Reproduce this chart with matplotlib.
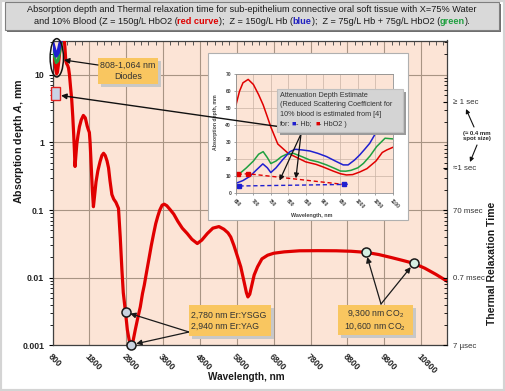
import matplotlib
matplotlib.use('Agg')
import matplotlib.pyplot as plt
from matplotlib.patches import Rectangle, Ellipse, FancyArrowPatch
from matplotlib.ticker import LogLocator, NullFormatter, MultipleLocator

plt.rcParams['font.family'] = ['Liberation Sans', 'DejaVu Sans']
plt.rcParams['mathtext.fontset'] = 'custom'
plt.rcParams['mathtext.rm'] = 'Liberation Sans'
plt.rcParams['mathtext.it'] = 'Liberation Sans:italic:bold'

# main curve: absorption depth (mm) vs wavelength (nm), 10% blood HbO2
main_wl = [800, 830, 860, 890, 912, 935, 960, 985, 1010, 1040, 1070, 1110, 1140, 1160,
           1185, 1211, 1235, 1260, 1290, 1320, 1350, 1375, 1395, 1411, 1435, 1460, 1490,
           1530, 1580, 1637, 1690, 1740, 1770, 1800, 1820, 1850, 1880, 1910, 1940, 1980,
           2030, 2090, 2140, 2185, 2230, 2280, 2320, 2360, 2410, 2460, 2520, 2590, 2637,
           2683, 2720, 2780, 2830, 2880, 2940, 2990, 3045, 3110, 3181, 3240, 3290, 3350,
           3408, 3480, 3544, 3600, 3653, 3710, 3773, 3830, 3900, 4000, 4089, 4200, 4320,
           4454, 4580, 4727, 4850, 5000, 5150, 5315, 5450, 5560, 5634, 5720, 5800, 5906,
           6000, 6060, 6100, 6150, 6200, 6270, 6361, 6480, 6634, 6800, 7086, 7500, 8000,
           8500, 8900, 9300, 9650, 10000, 10300, 10600, 10900, 11200, 11500]
main_depth = [27, 22, 16, 12, 10.3, 11, 14, 19, 26, 34, 40, 38, 24, 16,
              14.5, 13.7, 12.5, 10, 6.5, 4.4, 2.4, 1.3, 0.75, 0.44, 0.65, 0.95, 1.25,
              1.7, 2.15, 2.5, 2.3, 1.75, 1.55, 1.4, 1.0, 0.45, 0.2, 0.112, 0.16, 0.26,
              0.38, 0.52, 0.64, 0.69, 0.64, 0.53, 0.42, 0.27, 0.17, 0.145, 0.13, 0.106, 0.04,
              0.013, 0.006, 0.0031, 0.0017, 0.0012, 0.00102, 0.0012, 0.0017, 0.0025, 0.0037, 0.0058, 0.0078, 0.012,
              0.018, 0.03, 0.045, 0.063, 0.08, 0.1, 0.118, 0.122, 0.116, 0.1, 0.087, 0.068, 0.054,
              0.045, 0.037, 0.032, 0.036, 0.045, 0.054, 0.057, 0.052, 0.046, 0.040, 0.03, 0.022, 0.0145,
              0.0085, 0.006, 0.0052, 0.0057, 0.0075, 0.011, 0.0145, 0.019, 0.0215, 0.023, 0.0241, 0.025, 0.0251,
              0.025, 0.0246, 0.0237, 0.022, 0.0198, 0.018, 0.0163, 0.0138, 0.0112, 0.0089]

# diode-range pieces of the Hb (blue) and mixed (green) curves on the main plot
diode_wl = [800, 850, 900, 950, 1000, 1040]
diode_hb = [30, 24, 19, 21, 28, 34]
diode_mix = [25, 19, 15, 16, 22, 29]

laser_er_wl = [2780, 2940]
laser_er_depth = [0.0031, 0.00102]
laser_co2_wl = [9300, 10600]
laser_co2_depth = [0.0237, 0.0163]

x_ticks = list(range(800, 10801, 1000))
y_ticks = [0.001, 0.01, 0.1, 1, 10]
y_ticklabels = ['0.001', '0.01', '0.1', '1', '10']
trt_pos = [0.001, 0.01, 0.1, 0.42, 4.0]
trt_labels = ['7 µsec', '0.7 msec', '70 msec', '≈1 sec', '≥ 1 sec']

# inset: attenuation depth 650-1100 nm
in_hbo2_wl = [650, 660, 670, 685, 700, 715, 728, 740, 750, 770, 800, 830, 850, 880, 900,
              930, 950, 967, 985, 1005, 1026, 1052, 1070, 1083, 1100]
in_hbo2 = [52, 60, 65, 67, 64, 58, 52, 45, 39, 29, 23.5, 20.5, 18.5, 17, 15.5,
           13, 11.5, 10.8, 11, 12.5, 14.5, 19, 24, 25.5, 27]
in_mix_wl = [660, 680, 700, 715, 728, 740, 750, 765, 780, 795, 815, 840, 862, 885, 910,
             935, 950, 965, 980, 1000, 1016, 1035, 1054, 1078, 1100]
in_mix = [11.5, 15, 19, 23, 24.5, 21, 17.5, 19, 21.5, 23, 23.5, 21.5, 19.6, 18.5, 16.7,
          14.5, 13.1, 13, 13.5, 15, 17.6, 22, 27.5, 32.4, 32]
in_hb_wl = [650, 670, 690, 710, 727, 740, 750, 765, 785, 805, 820, 840, 862, 885, 910,
            935, 958, 972, 990, 1005, 1020, 1034, 1050, 1065]
in_hb = [5.9, 7.5, 10, 14, 17.3, 15, 12.2, 15, 20, 24.5, 25.9, 25.5, 24.9, 23.5, 21.6,
         19, 16.7, 16.7, 19.5, 22.5, 26, 29.4, 35, 42]
est_hb_wl = [660, 960, 975]
est_hb = [4.3, 5.2, 5.4]
est_hbo2_wl = [655, 685, 960]
est_hbo2 = [11.2, 11.5, 5.2]

W, H = 505, 391


def fx(x):
    return x / W


def fy(y):
    return 1 - y / H


fig = plt.figure(figsize=(W / 100, H / 100), dpi=100)
fig.patch.set_facecolor('white')
fig.patches.append(Rectangle((0, 0), 1, 1, transform=fig.transFigure, fill=False,
                             edgecolor='#d4d4d4', lw=3, zorder=0))


def box(x0, y0, x1, y1, fc, ec='none', shadow='#a6a6a6', z=3, off=3):
    if shadow:
        fig.patches.append(Rectangle((fx(x0 + off), fy(y1 + off)), fx(x1 - x0), fy(y0) - fy(y1),
                                     transform=fig.transFigure, fc=shadow, ec='none', zorder=z))
    fig.patches.append(Rectangle((fx(x0), fy(y1)), fx(x1 - x0), fy(y0) - fy(y1),
                                 transform=fig.transFigure, fc=fc, ec=ec, lw=0.8, zorder=z))


def text_row(parts, x, y, size, ha='center', z=10):
    r = fig.canvas.get_renderer()
    objs, widths = [], []
    for s, c, w, gap in parts:
        t = fig.text(0, fy(y), s, color=c, fontweight=w, fontsize=size,
                     ha='left', va='center', zorder=z)
        objs.append(t)
        widths.append(t.get_window_extent(r).width + gap)
    x0 = x - sum(widths) / 2 if ha == 'center' else x
    for t, wd in zip(objs, widths):
        t.set_x(fx(x0))
        x0 += wd


def fig_arrow(x0, y0, x1, y1, lw=0.9, ms=8, z=7):
    fig.add_artist(FancyArrowPatch((fx(x0), fy(y0)), (fx(x1), fy(y1)), transform=fig.transFigure,
                                   arrowstyle='-|>', color='#111111', lw=lw, mutation_scale=ms,
                                   shrinkA=0, shrinkB=0, zorder=z))


# title box
box(5, 2, 499, 30, '#d9d9d9', ec='#7f7f7f', shadow='#6f6f6f', z=3, off=2)
tc = '#1a1a1a'
text_row([('Absorption depth and Thermal relaxation time for sub-epithelium connective oral soft '
           'tissue with X=75% Water', tc, 'normal', 0)], 252, 10, 6.6)
text_row([('and 10% Blood (Z = 150g/L HbO2 (', tc, 'normal', 0), ('red curve', '#e00000', 'bold', 0),
          (');  Z = 150g/L Hb (', tc, 'normal', 0), ('blue', '#2020c0', 'bold', 0),
          (');  Z = 75g/L Hb + 75g/L HbO2 (', tc, 'normal', 0), ('green', '#20a040', 'bold', 0),
          (').', tc, 'normal', 0)], 252, 22, 6.6)

# main axes
ax = fig.add_axes([fx(52.5), fy(345.4), fx(447) - fx(52.5), fy(40.5) - fy(345.4)])
ax.set_facecolor('#fce4d6')
ax.set_yscale('log')
ax.set_xlim(800, 11500)
ax.set_ylim(0.001, 32)
ax.set_xticks(x_ticks)
ax.set_xticklabels([str(v) for v in x_ticks], rotation=-45, ha='left', va='top',
                   rotation_mode='anchor', fontsize=6.3, fontweight='bold', color='#262626')
ax.set_yticks(y_ticks)
ax.set_yticklabels(y_ticklabels, fontsize=6.3, fontweight='bold', color='#262626')
ax.yaxis.set_minor_locator(LogLocator(base=10, subs=range(2, 10)))
ax.yaxis.set_minor_formatter(NullFormatter())
ax.xaxis.set_minor_locator(MultipleLocator(200))
ax.tick_params(axis='x', which='major', length=0, pad=5, top=True)
ax.tick_params(axis='x', which='minor', bottom=False, top=True, direction='in', length=3,
               color='#404040')
ax.tick_params(axis='y', which='major', length=3, width=0.8, pad=3)
ax.tick_params(axis='y', which='minor', length=2, width=0.6)
ax.grid(True, which='major', color='#a89484', lw=0.8)
for sp in ax.spines.values():
    sp.set_color('#404040')
    sp.set_linewidth(0.9)

ax.plot(main_wl, main_depth, color='#e00000', lw=2.3, solid_joinstyle='round', zorder=4)
ax.plot(diode_wl, diode_mix, color='#20a040', lw=2.0, zorder=4)
ax.plot(diode_wl, diode_hb, color='#1f1fd0', lw=2.6, zorder=4)

ax.plot(laser_er_wl, laser_er_depth, 'o', ms=6.5, mfc='#c9d3e0', mec='#1a1a1a', mew=1.1,
        clip_on=False, zorder=6)
ax.plot(laser_co2_wl, laser_co2_depth, 'o', ms=6.5, mfc='#d6f0e4', mec='#1a1a1a', mew=1.1,
        clip_on=False, zorder=6)

# right axis: thermal relaxation time
ax2 = ax.twinx()
ax2.set_yscale('log')
ax2.set_ylim(ax.get_ylim())
ax2.set_yticks(trt_pos)
ax2.set_yticklabels(trt_labels, fontsize=5.7, color='#333333')
ax2.yaxis.set_minor_locator(LogLocator(base=10, subs=range(2, 10)))
ax2.yaxis.set_minor_formatter(NullFormatter())
ax2.tick_params(axis='y', which='major', direction='in', length=3, pad=4)
ax2.tick_params(axis='y', which='minor', direction='in', length=2, width=0.6)
for sp in ax2.spines.values():
    sp.set_visible(False)

fig.text(fx(19), fy(141.5), 'Absorption depth $A$, mm', rotation=90, ha='center', va='center',
         fontsize=7.7, fontweight='bold', color='#1a1a1a')
fig.text(fx(246), fy(377), 'Wavelength, nm', ha='center', va='center',
         fontsize=7.2, fontweight='bold', color='#1a1a1a')
fig.text(fx(492), fy(263.5), 'Thermal Relaxation Time', rotation=90, ha='center', va='center',
         fontsize=7.5, fontweight='bold', color='#1a1a1a')

fig.text(fx(477), fy(136), '(≈ 0.4 mm\nspot size)', ha='center', va='center', fontsize=4.3,
         fontweight='bold', color='#262626', linespacing=1.1)
fig_arrow(474, 127, 466, 109, lw=0.8, ms=6)
fig_arrow(477, 145, 470, 162, lw=0.8, ms=6)

# diode ellipse and red square
fig.patches.append(Ellipse((fx(56.8), fy(57.8)), fx(13.3), fy(0) - fy(38.3), transform=fig.transFigure,
                           fill=False, ec='#111111', lw=1.1, zorder=5))
fig.patches.append(Rectangle((fx(50.7), fy(100)), fx(9.3), fy(87.3) - fy(100), transform=fig.transFigure,
                             fc='#c9d3e6', ec='#e02020', lw=1.0, zorder=5))

# callout boxes
orange = '#f9c660'
box(98, 58, 158, 84, orange, shadow='#c8c8c8', z=5)
fig.text(fx(128), fy(71), '808-1,064 nm\nDiodes', ha='center', va='center', fontsize=6.4,
         color='#333333', zorder=6, linespacing=1.3)
box(189, 305, 271, 336, orange, shadow='#c8c8c8', z=5)
fig.text(fx(191), fy(320.5), '2,780 nm Er:YSGG\n2,940 nm Er:YAG', ha='left', va='center',
         fontsize=6.3, color='#333333', zorder=6, linespacing=1.3)
box(338, 305, 413, 335, orange, shadow='#c8c8c8', z=5)
fig.text(fx(375.5), fy(320), '9,300 nm CO$_2$\n10,600 nm CO$_2$', ha='center', va='center',
         fontsize=6.3, color='#333333', zorder=6, linespacing=1.3)

arr2 = dict(arrowstyle='-|>', color='#1a1a1a', lw=0.9, mutation_scale=8, shrinkA=0, shrinkB=3.5)
ax.annotate('', xy=(laser_er_wl[0], laser_er_depth[0]), xytext=(189, H - 332),
            textcoords='figure pixels', arrowprops=arr2, zorder=7)
ax.annotate('', xy=(laser_er_wl[1], laser_er_depth[1]), xytext=(189, H - 332),
            textcoords='figure pixels', arrowprops=arr2, zorder=7, annotation_clip=False)
ax.annotate('', xy=(laser_co2_wl[0], laser_co2_depth[0]), xytext=(381, H - 304),
            textcoords='figure pixels', arrowprops=arr2, zorder=7)
ax.annotate('', xy=(laser_co2_wl[1], laser_co2_depth[1]), xytext=(381, H - 304),
            textcoords='figure pixels', arrowprops=arr2, zorder=7)
fig_arrow(98, 65, 64, 60, lw=0.9, ms=8)

# inset
box(208, 53, 408, 220, 'white', ec='#b0b0b0', shadow=None, z=1.5)
axi = fig.add_axes([fx(236), fy(193.3), fx(392.7) - fx(236), fy(74.3) - fy(193.3)], zorder=2)
axi.set_facecolor('#fce4d6')
axi.set_xlim(650, 1100)
axi.set_ylim(0, 70)
axi.set_xticks(range(650, 1101, 50))
axi.set_xticklabels([str(v) for v in range(650, 1101, 50)], rotation=-45, ha='left', va='top',
                    rotation_mode='anchor', fontsize=3.6, fontweight='bold', color='#404040')
axi.set_yticks(range(0, 71, 10))
axi.set_yticklabels([str(v) for v in range(0, 71, 10)], fontsize=3.6, fontweight='bold',
                    color='#404040')
axi.tick_params(length=1.5, width=0.5, pad=2, color='#808080')
axi.grid(True, color='#c9b3a5', lw=0.5)
for sp in axi.spines.values():
    sp.set_color('#909090')
    sp.set_linewidth(0.6)
axi.plot(in_hbo2_wl, in_hbo2, color='#e00000', lw=1.1)
axi.plot(in_mix_wl, in_mix, color='#20a040', lw=1.1)
axi.plot(in_hb_wl, in_hb, color='#1f1fd0', lw=1.1)
axi.plot(est_hbo2_wl, est_hbo2, color='#e00000', lw=1.0, ls=(0, (3, 2)))
axi.plot(est_hbo2_wl[:2], est_hbo2[:2], 's', ms=3, color='#e00000')
axi.plot(est_hb_wl, est_hb, color='#1f1fd0', lw=1.0, ls=(0, (3, 2)))
axi.plot(est_hb_wl[:2], est_hb[:2], 's', ms=3, color='#1f1fd0', ls='none')
fig.text(fx(216), fy(122), 'Absorption depth, mm', rotation=90, ha='center', va='center',
         fontsize=3.7, fontweight='bold', color='#404040', zorder=3)
fig.text(fx(312), fy(215), 'Wavelength, nm', ha='center', va='center', fontsize=3.9,
         fontweight='bold', color='#404040', zorder=3)

box(277, 89, 403, 132, '#d4d4d4', ec='#c0c0c0', shadow='#9a9a9a', z=4, off=3)
ic = '#333333'
fig.text(fx(279.5), fy(95.5), 'Attenuation Depth Estimate', ha='left', va='center',
         fontsize=5.2, color=ic, zorder=6)
fig.text(fx(279.5), fy(105), '(Reduced Scattering Coefficient for', ha='left', va='center',
         fontsize=5.2, color=ic, zorder=6)
fig.text(fx(279.5), fy(114.5), '10% blood is estimated from [4]', ha='left', va='center',
         fontsize=5.2, color=ic, zorder=6)
text_row([('for:', ic, 'normal', 2), ('■', '#1f1fd0', 'normal', 0), ('- Hb;', ic, 'normal', 3),
          ('■', '#e00000', 'normal', 0), ('- HbO2 )', ic, 'normal', 0)], 279.5, 124, 5.2,
         ha='left', z=6)

arr3 = dict(arrowstyle='-|>', color='#111111', lw=0.9, mutation_scale=7, shrinkA=0, shrinkB=0)
axi.annotate('', xy=(775, 7.5), xytext=(301, H - 134), textcoords='figure pixels',
             arrowprops=arr3, zorder=7)
axi.annotate('', xy=(822, 8.8), xytext=(301, H - 134), textcoords='figure pixels',
             arrowprops=arr3, zorder=7)
# long pointer from the estimate box to the red square on the main plot
fig_arrow(278, 126.5, 61, 95.5, lw=1.0, ms=8, z=3.5)

fig.savefig('out.png', dpi=100, facecolor='white')
